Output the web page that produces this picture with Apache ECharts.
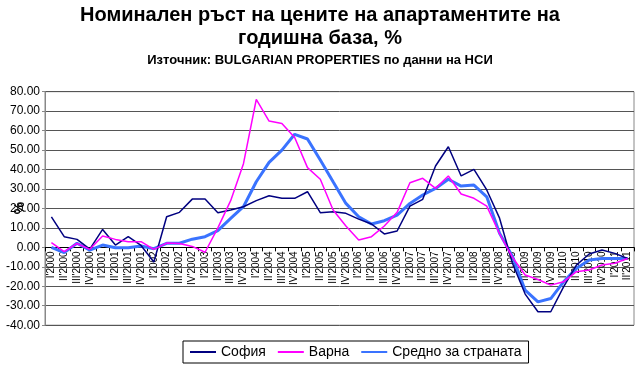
<!DOCTYPE html>
<html><head><meta charset="utf-8">
<script src="https://cdn.jsdelivr.net/npm/echarts@6/dist/echarts.min.js"></script>
<style>html,body{margin:0;padding:0;background:#fff}#c{width:640px;height:368px}</style>
</head><body><div id="c"></div>
<script>
const years = [2000,2001,2002,2003,2004,2005,2006,2007,2008,2009,2010,2011];
const quarters = ["I","II","III","IV"];
const categories = [];
years.forEach(y => quarters.forEach(q => { if (!(y === 2011 && (q === "III" || q === "IV"))) categories.push(q + "'" + y); }));

const sofia = [15.7,5.5,4.1,-0.9,9.2,1.2,5.5,1.0,-7.5,15.7,18.0,24.8,
  24.8,17.8,19.2,20.9,24.0,26.5,25.2,25.2,28.6,17.8,18.3,17.5,
  14.5,12.0,6.9,8.4,21.2,24.7,41.8,51.7,36.7,40.1,29.5,15.0,
  -8.0,-24.0,-33.1,-33.1,-20.3,-9.1,-3.4,-1.4,-3.1,-5.7];
const varna = [2.4,-2.2,2.0,-1.0,5.8,4.1,2.9,2.9,-1.0,2.2,2.0,0.5,
  -2.5,10.0,24.0,43.0,76.0,64.9,63.7,56.5,41.0,35.0,19.2,11.0,
  3.8,5.5,11.0,18.0,33.2,35.5,30.3,36.7,27.4,25.2,21.2,7.0,
  -5.0,-14.2,-16.5,-19.4,-17.7,-12.5,-11.6,-9.1,-8.2,-5.7];
const average = [0.0,-2.7,2.1,-1.4,1.2,-0.2,-0.2,0.7,-0.7,2.1,2.1,4.2,
  5.5,8.6,14.9,20.9,33.7,43.7,50.0,58.1,55.7,44.9,33.7,22.6,
  15.7,12.0,13.7,16.6,22.6,26.9,30.3,35.0,31.5,32.0,26.0,7.2,
  -4.5,-22.0,-28.0,-26.3,-17.7,-10.8,-6.5,-5.7,-5.7,-5.7];
const seriesNames = ["София","Варна","Средно за страната"];

const chart = echarts.init(document.getElementById('c'), null, {renderer:'canvas'});
const F = 'Arial, "Liberation Sans", sans-serif';
const gridTop = 91.7, gridBottom = 42.8, yMin = -40, yMax = 80;
chart.setOption({
  animation: false,
  backgroundColor: '#fff',
  title: [
    {text: 'Номинален ръст на цените на апартаментите на\nгодишна база, %', left: 'center', top: 0,
     padding: [4, 0, 4, 10],
     textStyle: {fontFamily: F, fontSize: 20, fontWeight: 'bold', color: '#000', lineHeight: 23}},
    {text: 'Източник: BULGARIAN PROPERTIES по данни на НСИ', left: 'center', top: 50,
     padding: [4, 0, 4, 6],
     textStyle: {fontFamily: F, fontSize: 13, fontWeight: 'bold', color: '#000'}}
  ],
  graphic: [
    {type: 'text', x: 20, y: 208, rotation: Math.PI / 2, z: 10,
     style: {text: '%', align: 'center', verticalAlign: 'middle', font: 'bold 14px ' + F, fill: '#000'}}
  ],
  grid: {left: 45, right: 6, top: gridTop, bottom: gridBottom, show: true, borderColor: '#888', borderWidth: 1,
     containLabel: false, outerBoundsMode: 'none'},
  legend: {
    data: seriesNames.map(n => ({name: n, icon: 'rect'})),
    left: 183, top: 341, padding: [4, 7], itemGap: 12, itemWidth: 26, itemHeight: 2,
    borderColor: '#000', borderWidth: 1,
    textStyle: {fontFamily: F, fontSize: 14, color: '#000'}
  },
  xAxis: {
    type: 'category', data: categories, boundaryGap: true,
    axisLine: {onZero: true, lineStyle: {color: '#000', width: 1}},
    axisTick: {show: true, interval: 0, length: 4, lineStyle: {color: '#000'}},
    axisLabel: {show: false}, splitLine: {show: false}
  },
  yAxis: {
    type: 'value', min: yMin, max: yMax, interval: 10,
    axisLine: {show: true, lineStyle: {color: '#888'}},
    axisTick: {show: true, length: 3, lineStyle: {color: '#888'}},
    axisLabel: {fontFamily: F, fontSize: 12, color: '#000', margin: 5, formatter: v => v.toFixed(2)},
    splitLine: {show: true, lineStyle: {color: '#555', width: 1}}
  },
  series: [
    {name: seriesNames[0], type: 'line', data: sofia, symbol: 'none', z: 3,
     lineStyle: {color: '#000080', width: 1.5}, itemStyle: {color: '#000080'}},
    {name: seriesNames[1], type: 'line', data: varna, symbol: 'none', z: 4,
     lineStyle: {color: '#FF00FF', width: 1.5}, itemStyle: {color: '#FF00FF'}},
    {name: seriesNames[2], type: 'line', data: average, symbol: 'none', z: 2,
     lineStyle: {color: '#3A73FF', width: 3}, itemStyle: {color: '#3A73FF'}},
    {name: 'labels', type: 'custom', silent: true, clip: false, z: 1,
     data: categories.map((c, i) => [i, 0]),
     renderItem: (params, api) => {
       const p = api.coord([api.value(0), 0]);
       return {type: 'text', x: p[0], y: p[1] + 4, rotation: Math.PI / 2,
         style: {text: categories[params.dataIndex], align: 'right', verticalAlign: 'middle',
                 font: '10px ' + F, fill: '#000'}};
     }}
  ]
});
</script></body></html>
